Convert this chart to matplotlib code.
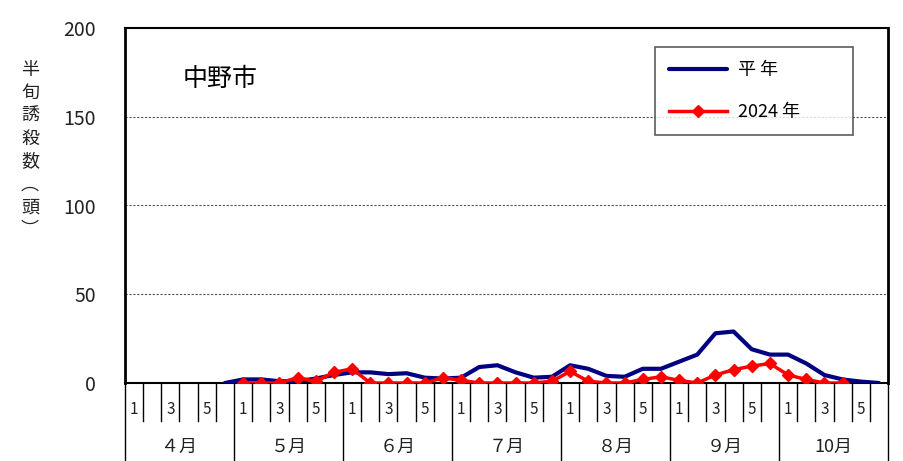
import numpy as np
import matplotlib.pyplot as plt

plt.rcParams['font.family'] = ['Noto Sans CJK JP', 'DejaVu Sans']

months = ['４月', '５月', '６月', '７月', '８月', '９月', '10月']
sub_labels = ['1', '', '3', '', '5', '']

# 半旬ごとの誘殺数 (4月第1半旬 = 0)
heinen_start = 5
heinen = [0, 2, 2, 1, 1, 2.5, 4.5, 6, 6, 5, 5.5, 3, 2.5, 3, 9, 10, 6,
          3, 3.5, 10, 8, 4, 3.5, 8, 8, 12, 16, 28, 29, 19, 16, 16, 11,
          4.5, 2, 0.8, 0]
y2024_start = 6
y2024 = [0, 0, 0, 3, 1, 6, 8, 0, 0, 0, 0, 3, 1.5, 0, 0, 0, 0, 1, 6.5,
         1, 0, 0, 2, 3.5, 1.5, 0, 4.5, 7.5, 9.5, 11, 4.5, 2, 0, 0]

n = len(months) * len(sub_labels)

fig = plt.figure(figsize=(9.04, 4.61), dpi=100)
ax = fig.add_axes([125/904, 78/461, 763/904, 355/461])

x1 = np.arange(heinen_start, heinen_start + len(heinen))
x2 = np.arange(y2024_start, y2024_start + len(y2024))
ax.plot(x1, heinen, color='#000080', lw=3, label='平 年', solid_capstyle='round', zorder=3)
ax.plot(x2, y2024, color='#ff0000', lw=2.5, marker='D', ms=6.5, label='2024 年', zorder=4)

ax.set_xlim(-0.5, n - 0.5)
ax.set_ylim(0, 200)
ax.set_yticks([0, 50, 100, 150, 200])
ax.tick_params(axis='y', length=0, labelsize=14, pad=21, labelcolor='#222222')
ax.set_xticks([])
for v in [50, 100, 150]:
    ax.axhline(v, color='#555555', lw=0.8, ls=(0, (2, 1.5)), zorder=1)

for s in ['left', 'right']:
    ax.spines[s].set_linewidth(2)
ax.spines['top'].set_linewidth(1.5)
ax.spines['bottom'].set_linewidth(1.5)

# 下部の半旬・月の目盛り
tr = ax.get_xaxis_transform()
for i in range(n + 1):
    if i % len(sub_labels) == 0:
        ax.plot([i - 0.5, i - 0.5], [0, -0.22], color='black', lw=1, transform=tr, clip_on=False)
    else:
        ax.plot([i - 0.5, i - 0.5], [0, -0.107], color='black', lw=1, transform=tr, clip_on=False)
for i in range(n):
    lab = sub_labels[i % len(sub_labels)]
    if lab:
        ax.text(i, -0.075, lab, transform=tr, ha='center', va='center', fontsize=11, color='#222222')
for m, name in enumerate(months):
    ax.text(m * len(sub_labels) + 2.5, -0.18, name, transform=tr, ha='center', va='center',
            fontsize=13, color='#222222')

ax.text(0.075, 0.855, '中野市', transform=ax.transAxes, fontsize=18, ha='left', va='center')

fig.text(30/904, 1 - 150/461, '半\n旬\n誘\n殺\n数\n︵\n頭\n︶', ha='center', va='center',
         fontsize=13, linespacing=1.35, color='#222222')

leg = ax.legend(loc='upper left', bbox_to_anchor=(655/904, 1 - 131/461, 198/904, 84/461),
                bbox_transform=fig.transFigure, mode='expand',
                frameon=True, fancybox=False, fontsize=13, handlelength=3.2, labelspacing=1.3,
                borderpad=0.8, handletextpad=0.6, borderaxespad=0)
leg.get_frame().set_edgecolor('#333333')
leg.get_frame().set_linewidth(1.2)

fig.savefig('out.png', dpi=100)
